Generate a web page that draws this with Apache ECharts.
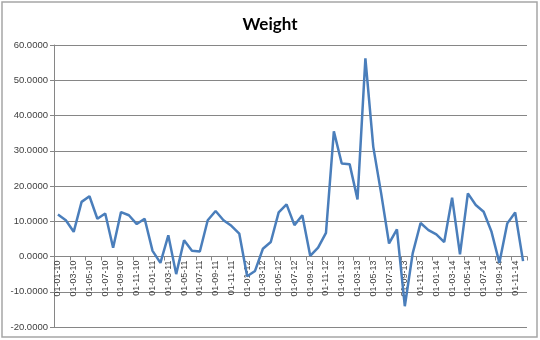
<!DOCTYPE html>
<html>
<head>
<meta charset="utf-8">
<script src="https://cdn.jsdelivr.net/npm/echarts@6/dist/echarts.min.js"></script>
<style>
html,body{margin:0;padding:0;background:#fff;}
#chart{width:540px;height:340px;}
</style>
</head>
<body>
<div id="chart"></div>
<script>
var titleText = 'Weight';
var categories = [
  '01-01-10','01-02-10','01-03-10','01-04-10','01-05-10','01-06-10','01-07-10','01-08-10','01-09-10','01-10-10','01-11-10','01-12-10',
  '01-01-11','01-02-11','01-03-11','01-04-11','01-05-11','01-06-11','01-07-11','01-08-11','01-09-11','01-10-11','01-11-11','01-12-11',
  '01-01-12','01-02-12','01-03-12','01-04-12','01-05-12','01-06-12','01-07-12','01-08-12','01-09-12','01-10-12','01-11-12','01-12-12',
  '01-01-13','01-02-13','01-03-13','01-04-13','01-05-13','01-06-13','01-07-13','01-08-13','01-09-13','01-10-13','01-11-13','01-12-13',
  '01-01-14','01-02-14','01-03-14','01-04-14','01-05-14','01-06-14','01-07-14','01-08-14','01-09-14','01-10-14','01-11-14','01-12-14'
];
var weight = [
  11.9, 10.3, 7.0, 15.5, 17.1, 10.7, 12.2, 2.5, 12.6, 11.7, 9.2, 10.7,
  1.6, -1.8, 6.0, -5.0, 4.6, 1.6, 1.4, 10.3, 12.9, 10.3, 8.7, 6.5,
  -5.6, -4.1, 2.2, 4.1, 12.5, 14.8, 8.9, 11.7, 0.2, 2.5, 6.7, 35.5,
  26.4, 26.2, 16.2, 56.2, 31.1, 17.9, 3.7, 7.7, -14.1, 0.9, 9.5, 7.5,
  6.3, 4.1, 16.7, 0.6, 17.9, 14.6, 12.7, 7.0, -1.8, 9.4, 12.5, -1.3
];
var yTicks = { min: -20, max: 60, step: 10 };

var gridTop = 45, gridBottom = 13, chartH = 340;
var plotH = chartH - gridTop - gridBottom;
// distance (px) from plot bottom up to the zero line, via the value scale
var zeroOffset = plotH * (0 - yTicks.min) / (yTicks.max - yTicks.min);

var chart = echarts.init(document.getElementById('chart'), null, {renderer: 'canvas'});
chart.setOption({
  animation: false,
  backgroundColor: '#ffffff',
  title: {
    text: titleText,
    left: 'center',
    top: 11,
    textStyle: { fontFamily: 'Lato, "Liberation Sans", sans-serif', fontSize: 17, fontWeight: 'bold', color: '#000' }
  },
  graphic: [{
    type: 'rect',
    shape: { x: 2, y: 2, width: 535, height: 335 },
    style: { fill: 'none', stroke: '#a6a6a6', lineWidth: 1.5 },
    silent: true
  }],
  grid: { left: 54, right: 13, top: gridTop, bottom: gridBottom, containLabel: false },
  xAxis: {
    type: 'category',
    data: categories,
    boundaryGap: true,
    position: 'bottom',
    offset: -zeroOffset,
    axisLine: { show: true, onZero: false, lineStyle: { color: '#868686', width: 1 } },
    axisTick: { show: true, interval: 1, length: 4, alignWithLabel: false, lineStyle: { color: '#868686' } },
    axisLabel: {
      interval: 1,
      rotate: 90,
      margin: 4,
      fontSize: 9,
      color: '#404040',
      fontFamily: '"Liberation Sans", Arial, sans-serif'
    },
    splitLine: { show: false }
  },
  yAxis: {
    type: 'value',
    min: yTicks.min,
    max: yTicks.max,
    interval: yTicks.step,
    axisLine: { show: true, lineStyle: { color: '#868686', width: 1 } },
    axisTick: { show: true, length: 4, lineStyle: { color: '#868686' } },
    axisLabel: {
      formatter: function (v) { return v.toFixed(4); },
      fontSize: 9.5,
      margin: 6,
      color: '#404040',
      fontFamily: '"Liberation Sans", Arial, sans-serif'
    },
    splitLine: { show: true, lineStyle: { color: '#868686', width: 1 } }
  },
  series: [{
    type: 'line',
    name: 'Weight',
    data: weight,
    symbol: 'none',
    smooth: false,
    lineStyle: { color: '#4a7ebb', width: 2.5 },
    itemStyle: { color: '#4a7ebb' }
  }]
});
</script>
</body>
</html>
